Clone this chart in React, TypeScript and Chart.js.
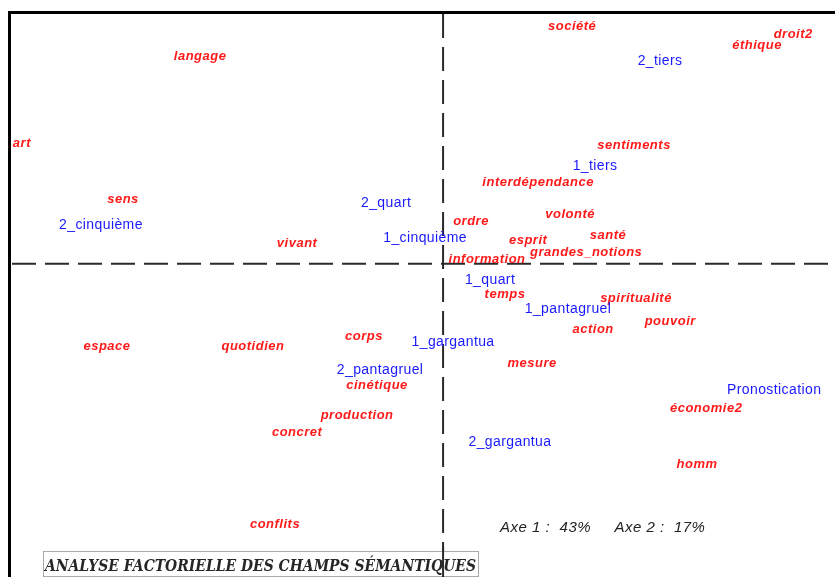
import React, { useEffect, useRef } from "react";
import { Chart, registerables } from "chart.js";

Chart.register(...registerables);

// Words (red) — factor coordinates
const wordLabels = [
  "langage", "art", "sens", "vivant", "société", "droit2", "éthique", "sentiments",
  "interdépendance", "volonté", "ordre", "santé", "esprit", "grandes_notions", "information",
  "temps", "spiritualité", "pouvoir", "action", "mesure", "économie2", "homm",
  "espace", "quotidien", "corps", "cinétique", "production", "concret", "conflits",
];
const wordX = [
  -1.122, -1.945, -1.478, -0.674, 0.596, 1.617, 1.450, 0.882,
  0.439, 0.587, 0.129, 0.762, 0.393, 0.661, 0.203,
  0.286, 0.891, 1.049, 0.693, 0.411, 1.215, 1.173,
  -1.552, -0.878, -0.365, -0.305, -0.397, -0.674, -0.776,
];
const wordY = [
  1.331, 0.775, 0.418, 0.137, 1.522, 1.471, 1.401, 0.763,
  0.526, 0.322, 0.278, 0.188, 0.156, 0.080, 0.035,
  -0.188, -0.214, -0.361, -0.412, -0.629, -0.916, -1.273,
  -0.520, -0.520, -0.456, -0.769, -0.960, -1.069, -1.656,
];

// Texts (blue)
const textLabels = [
  "2_cinquième", "2_quart", "1_cinquième", "2_tiers", "1_tiers", "1_quart",
  "1_pantagruel", "1_gargantua", "2_pantagruel", "Pronostication", "2_gargantua",
];
const textX = [-1.580, -0.263, -0.083, 1.002, 0.702, 0.217, 0.577, 0.046, -0.291, 1.529, 0.309];
const textY = [0.252, 0.392, 0.169, 1.299, 0.629, -0.099, -0.284, -0.495, -0.673, -0.801, -1.136];

const axisInfo = "Axe 1 :  43%     Axe 2 :  17%";
const axisInfoPos = { x: 0.263, y: -1.68 };
const titleText = "ANALYSE FACTORIELLE DES CHAMPS SÉMANTIQUES";

const X_MIN = -2.0, X_MAX = 1.81, Y_MIN = -2.0, Y_MAX = 1.6;

const RED = "#ff1a1a";
const BLUE = "#1a1aff";

const labelPlugin = {
  id: "labelPlugin",
  beforeDatasetsDraw(chart: any) {
    const ctx = chart.ctx as CanvasRenderingContext2D;
    const xs = chart.scales.x;
    const ys = chart.scales.y;
    const a = chart.chartArea;
    const x0 = xs.getPixelForValue(0);
    const y0 = ys.getPixelForValue(0);
    ctx.save();
    ctx.setLineDash([24, 9]);
    ctx.strokeStyle = "#2a2a2a";
    ctx.lineWidth = 2;
    ctx.beginPath();
    ctx.moveTo(a.left + 2, y0);
    ctx.lineTo(a.right, y0);
    ctx.stroke();
    ctx.beginPath();
    ctx.moveTo(x0, a.top + 1);
    ctx.lineTo(x0, a.bottom);
    ctx.stroke();
    ctx.setLineDash([]);
    ctx.strokeStyle = "#000";
    ctx.lineWidth = 3;
    ctx.beginPath();
    ctx.moveTo(a.left - 0.5, a.bottom);
    ctx.lineTo(a.left - 0.5, a.top - 0.5);
    ctx.lineTo(a.right, a.top - 0.5);
    ctx.stroke();
    ctx.restore();
  },
  afterDatasetsDraw(chart: any) {
    const ctx = chart.ctx as CanvasRenderingContext2D;
    const xs = chart.scales.x;
    const ys = chart.scales.y;
    ctx.save();
    ctx.textAlign = "center";
    ctx.textBaseline = "middle";
    ctx.font = 'italic bold 13px "Liberation Sans", Arial, sans-serif';
    (ctx as any).letterSpacing = "0.5px";
    ctx.fillStyle = RED;
    wordLabels.forEach((t, i) => {
      ctx.fillText(t, xs.getPixelForValue(wordX[i]), ys.getPixelForValue(wordY[i]) + 1);
    });
    ctx.font = '14px "Liberation Sans", Arial, sans-serif';
    (ctx as any).letterSpacing = "0.4px";
    ctx.fillStyle = BLUE;
    textLabels.forEach((t, i) => {
      ctx.fillText(t, xs.getPixelForValue(textX[i]), ys.getPixelForValue(textY[i]) + 1);
    });
    (ctx as any).letterSpacing = "0.5px";
    ctx.font = 'italic 15px "Liberation Sans", Arial, sans-serif';
    ctx.fillStyle = "#222";
    ctx.textAlign = "left";
    ctx.fillText(axisInfo, xs.getPixelForValue(axisInfoPos.x), ys.getPixelForValue(axisInfoPos.y) + 1);
    // title box
    (ctx as any).letterSpacing = "0px";
    const bx = 43, by = 551, bw = 435, bh = 25;
    ctx.fillStyle = "#fff";
    ctx.fillRect(bx, by, bw, bh);
    ctx.setLineDash([1, 1]);
    ctx.strokeStyle = "#555";
    ctx.lineWidth = 1;
    ctx.strokeRect(bx + 0.5, by + 0.5, bw, bh);
    ctx.setLineDash([]);
    ctx.font = 'italic bold 17px "DejaVu Serif", serif';
    ctx.fillStyle = "#262626";
    ctx.textBaseline = "alphabetic";
    ctx.fillText(titleText, bx + 2, by + 20, bw - 4);
    const x0 = xs.getPixelForValue(0);
    ctx.strokeStyle = "#2a2a2a";
    ctx.lineWidth = 2;
    ctx.beginPath();
    ctx.moveTo(x0, by - 4);
    ctx.lineTo(x0, chart.chartArea.bottom);
    ctx.stroke();
    ctx.restore();
  },
};

export default function App() {
  const ref = useRef<HTMLCanvasElement>(null);
  useEffect(() => {
    if (!ref.current) return;
    const chart = new Chart(ref.current, {
      type: "scatter",
      data: {
        datasets: [
          {
            label: "mots",
            data: wordX.map((x, i) => ({ x, y: wordY[i] })),
            pointRadius: 0,
            backgroundColor: RED,
          },
          {
            label: "textes",
            data: textX.map((x, i) => ({ x, y: textY[i] })),
            pointRadius: 0,
            backgroundColor: BLUE,
          },
        ],
      },
      options: {
        animation: false,
        responsive: false,
        layout: { padding: { left: 10, top: 13, right: 0, bottom: 0 } },
        plugins: { legend: { display: false }, tooltip: { enabled: false } },
        scales: {
          x: { type: "linear", min: X_MIN, max: X_MAX, display: false },
          y: { type: "linear", min: Y_MIN, max: Y_MAX, display: false },
        },
      },
      plugins: [labelPlugin],
    });
    return () => chart.destroy();
  }, []);
  return (
    <div style={{ position: "fixed", left: 0, top: 0, width: 835, height: 577, background: "#fff" }}>
      <canvas ref={ref} width={835} height={577} style={{ display: "block" }} />
    </div>
  );
}
